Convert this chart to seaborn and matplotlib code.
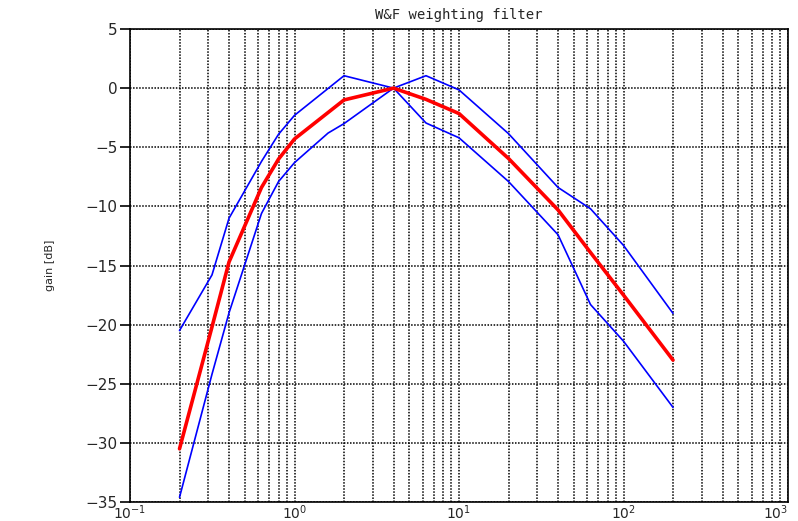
import numpy as np
import pandas as pd
import matplotlib
matplotlib.use("Agg")
import matplotlib.pyplot as plt
import seaborn as sns
from matplotlib.ticker import LogLocator, NullFormatter, FixedLocator

# Frequency response of the W&F weighting filter with its tolerance band
freq_nominal = [0.2, 0.315, 0.4, 0.63, 0.8, 1.0, 2.0, 4.0, 6.3, 10.0, 20.0, 40.0, 63.0, 100.0, 200.0]
gain_nominal = [-30.5, -20.2, -14.7, -8.4, -6.0, -4.3, -1.0, 0.0, -0.95, -2.15, -5.95, -10.3, -13.9, -17.5, -23.0]

freq_upper = [0.2, 0.315, 0.4, 0.63, 0.8, 1.0, 2.0, 4.0, 6.3, 10.0, 20.0, 40.0, 63.0, 100.0, 200.0]
gain_upper = [-20.5, -15.8, -11.0, -6.2, -3.9, -2.3, 1.05, 0.0, 1.05, -0.15, -3.85, -8.4, -10.2, -13.3, -19.05]

freq_lower = [0.2, 0.315, 0.4, 0.63, 0.8, 1.0, 1.6, 2.0, 4.0, 6.3, 10.0, 20.0, 40.0, 63.0, 100.0, 200.0]
gain_lower = [-34.6, -24.2, -19.0, -10.6, -7.9, -6.3, -3.8, -3.0, 0.0, -2.95, -4.2, -7.9, -12.4, -18.3, -21.4, -27.0]

y_ticks = [5, 0, -5, -10, -15, -20, -25, -30, -35]
x_decades = [0.1, 1, 10, 100, 1000]
x_labels = [r"$10^{-1}$", r"$10^{0}$", r"$10^{1}$", r"$10^{2}$", r"$10^{3}$"]

df_nom = pd.DataFrame({"f": freq_nominal, "g": gain_nominal})
df_up = pd.DataFrame({"f": freq_upper, "g": gain_upper})
df_lo = pd.DataFrame({"f": freq_lower, "g": gain_lower})

sns.set_style("white")
plt.rcParams["font.family"] = ["DejaVu Sans"]

fig = plt.figure(figsize=(7.98, 5.21), dpi=100)
ax = fig.add_axes([130 / 798, 1 - 502 / 521, 658 / 798, 473 / 521])

ax.set_xscale("log")
ax.set_xlim(0.1, 1000)
ax.set_ylim(-35, 5)

# dotted grid: decades plus intermediate log lines, and every 5 dB
ax.xaxis.set_major_locator(FixedLocator(x_decades))
ax.xaxis.set_major_formatter(NullFormatter())
ax.xaxis.set_minor_locator(LogLocator(base=10, subs=np.arange(2, 10), numticks=100))
ax.xaxis.set_minor_formatter(NullFormatter())
ax.yaxis.set_major_locator(FixedLocator(y_ticks))
grid_kw = dict(color="black", linestyle=(0, (1, 1)), linewidth=1.1)
ax.grid(True, which="major", axis="both", **grid_kw)
ax.grid(True, which="minor", axis="x", **grid_kw)
ax.set_axisbelow(True)

sns.lineplot(data=df_up, x="f", y="g", ax=ax, color="#0000ff", linewidth=1.2, estimator=None, sort=False)
sns.lineplot(data=df_lo, x="f", y="g", ax=ax, color="#0000ff", linewidth=1.2, estimator=None, sort=False)
sns.lineplot(data=df_nom, x="f", y="g", ax=ax, color="#ff0000", linewidth=2.6, estimator=None, sort=False)

for s in ax.spines.values():
    s.set_visible(True)
    s.set_color("black")
    s.set_linewidth(1.2)

ax.tick_params(axis="y", which="major", direction="out", length=7, width=1.2,
               color="black", labelsize=11, pad=2, left=True)
ax.tick_params(axis="x", which="both", length=0)
ax.set_yticklabels([f"{v}".replace("-", "\u2212") for v in y_ticks])

# decade labels under the axis; the last one kept inside the figure
xtrans = ax.get_xaxis_transform()
for i, (xv, lab) in enumerate(zip(x_decades, x_labels)):
    ha = "right" if i == len(x_decades) - 1 else "center"
    ax.text(xv, -0.004, lab, transform=xtrans, ha=ha, va="top", fontsize=10)

ax.set_xlabel("")
ax.set_ylabel("gain [dB]", fontsize=8, labelpad=22)
ax.set_title("W&F weighting filter", fontsize=10, family="DejaVu Sans Mono", pad=7)

fig.savefig("out.png", dpi=100, facecolor="white")
